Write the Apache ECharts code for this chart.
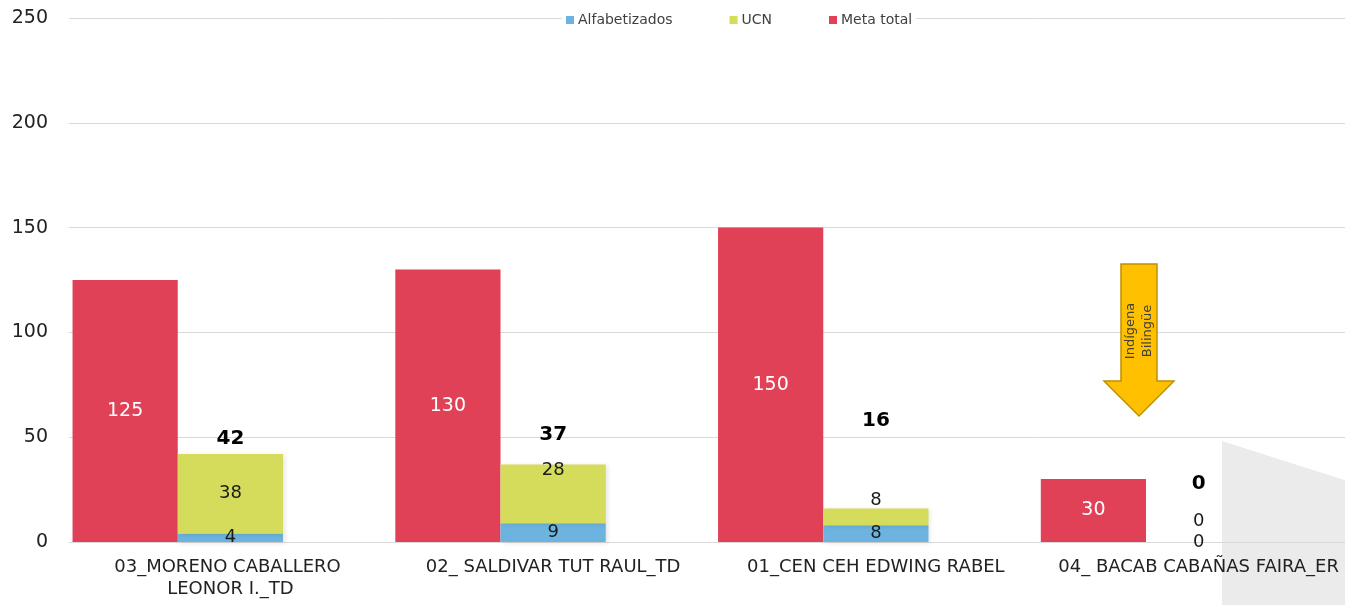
<!DOCTYPE html>
<html>
<head>
<meta charset="utf-8">
<title>Avance por técnico docente</title>
<script src="https://cdn.jsdelivr.net/npm/echarts@6/dist/echarts.min.js"></script>
<style>
  html, body { margin: 0; padding: 0; background: #fff; overflow: hidden; }
  #chart { width: 1360px; height: 605px; }
</style>
</head>
<body>
<div id="chart"></div>
<script>
// Técnicos docentes (categorías del eje X)
const categories = [
  '03_MORENO CABALLERO LEONOR I._TD',
  '02_ SALDIVAR TUT RAUL_TD',
  '01_CEN CEH EDWING RABEL',
  '04_ BACAB CABAÑAS FAIRA_ER'
];
// Meta total por técnico
const metaTotal = [125, 130, 150, 30];
// Avance acumulado: alfabetizados + UCN
const alfabetizados = [4, 9, 8, 0];
const ucn = [38, 28, 8, 0];
const totales = [42, 37, 16, 0];
// Eje Y
const yMin = 0, yMax = 250, yStep = 50;

// Desplazamiento vertical de algunas etiquetas (px)
const ucnLabelShift = [0, -23, -17, -21];
const totalLabelShift = [0, -14, -72, -43];

const FONT = 'DejaVu Sans';
const chart = echarts.init(document.getElementById('chart'), null, { renderer: 'canvas' });

const ucnData = ucn.map((v, i) => ({
  value: v,
  label: { offset: [0, ucnLabelShift[i]] }
}));
const totalData = totales.map((v, i) => ({
  value: v,
  label: { offset: [0, totalLabelShift[i]] }
}));

chart.setOption({
  backgroundColor: '#ffffff',
  animation: false,
  textStyle: { fontFamily: FONT },
  legend: {
    data: ['Alfabetizados', 'UCN', 'Meta total'],
    left: 562,
    top: 11,
    itemWidth: 8,
    itemHeight: 8,
    itemGap: 57,
    icon: 'rect',
    backgroundColor: '#ffffff',
    padding: [2, 4],
    textStyle: { fontFamily: FONT, fontSize: 14, color: '#404040', padding: [0, 0, 0, -1] }
  },
  grid: { left: 69, top: 18, right: 0, bottom: 63, containLabel: false },
  xAxis: {
    type: 'category',
    data: categories,
    axisLine: { show: true, lineStyle: { color: '#d9d9d9', width: 1 } },
    axisTick: { show: false },
    axisLabel: {
      interval: 0,
      margin: 14,
      fontFamily: FONT,
      fontSize: 18,
      lineHeight: 22,
      color: '#222',
      width: 290,
      overflow: 'break'
    }
  },
  yAxis: {
    type: 'value',
    min: yMin,
    max: yMax,
    interval: yStep,
    axisLine: { show: false },
    axisTick: { show: false },
    axisLabel: { margin: 21, fontFamily: FONT, fontSize: 19, color: '#222' },
    splitLine: { lineStyle: { color: '#d9d9d9', width: 1 } }
  },
  graphic: [
    {
      type: 'polygon',
      z: -10,
      silent: true,
      shape: { points: [[1222, 441], [1360, 485], [1360, 605], [1222, 605]] },
      style: { fill: '#ebebeb' }
    },
    {
      type: 'polygon',
      z: 100,
      shape: {
        points: [
          [1121, 264], [1157, 264], [1157, 381], [1174, 381],
          [1139, 416], [1104, 381], [1121, 381]
        ]
      },
      style: { fill: '#FFC000', stroke: '#BF9000', lineWidth: 1.5 }
    },
    {
      type: 'text',
      z: 101,
      x: 1139,
      y: 331,
      rotation: Math.PI / 2,
      style: {
        text: 'Indígena\nBilingüe',
        fontFamily: FONT,
        fontSize: 13,
        lineHeight: 17,
        fill: '#404040',
        align: 'center',
        verticalAlign: 'middle'
      }
    }
  ],
  series: [
    {
      name: 'Meta total',
      type: 'bar',
      stack: 'meta',
      data: metaTotal,
      barGap: '0%',
      barCategoryGap: '2.2%',
      itemStyle: { color: '#E14157' },
      label: { show: true, position: 'inside', color: '#ffffff', fontFamily: FONT, fontSize: 19 }
    },
    {
      name: 'Alfabetizados',
      type: 'bar',
      stack: 'avance',
      data: alfabetizados,
      itemStyle: {
        color: '#6CB3E0',
        shadowColor: 'rgba(0,0,0,0.12)',
        shadowBlur: 5,
        shadowOffsetX: 2,
        shadowOffsetY: 1
      },
      label: { show: true, position: 'inside', color: '#1a1a1a', fontFamily: FONT, fontSize: 18 }
    },
    {
      name: 'UCN',
      type: 'bar',
      stack: 'avance',
      data: ucnData,
      itemStyle: {
        color: '#D5DB5B',
        shadowColor: 'rgba(0,0,0,0.12)',
        shadowBlur: 5,
        shadowOffsetX: 2,
        shadowOffsetY: 1
      },
      label: { show: true, position: 'inside', color: '#1a1a1a', fontFamily: FONT, fontSize: 18 }
    },
    {
      // Ranura vacía que separa los grupos
      name: 'espacio',
      type: 'bar',
      stack: 'espacio',
      data: categories.map(() => '-'),
      itemStyle: { color: 'transparent' }
    },
    {
      name: 'Total',
      type: 'line',
      data: totalData,
      symbol: 'circle',
      symbolSize: 1,
      showSymbol: true,
      itemStyle: { color: 'transparent' },
      lineStyle: { width: 0, color: 'transparent' },
      z: 5,
      label: {
        show: true,
        position: 'top',
        distance: 5,
        color: '#000',
        fontFamily: FONT,
        fontSize: 20,
        fontWeight: 'bold'
      }
    }
  ]
});
</script>
</body>
</html>
